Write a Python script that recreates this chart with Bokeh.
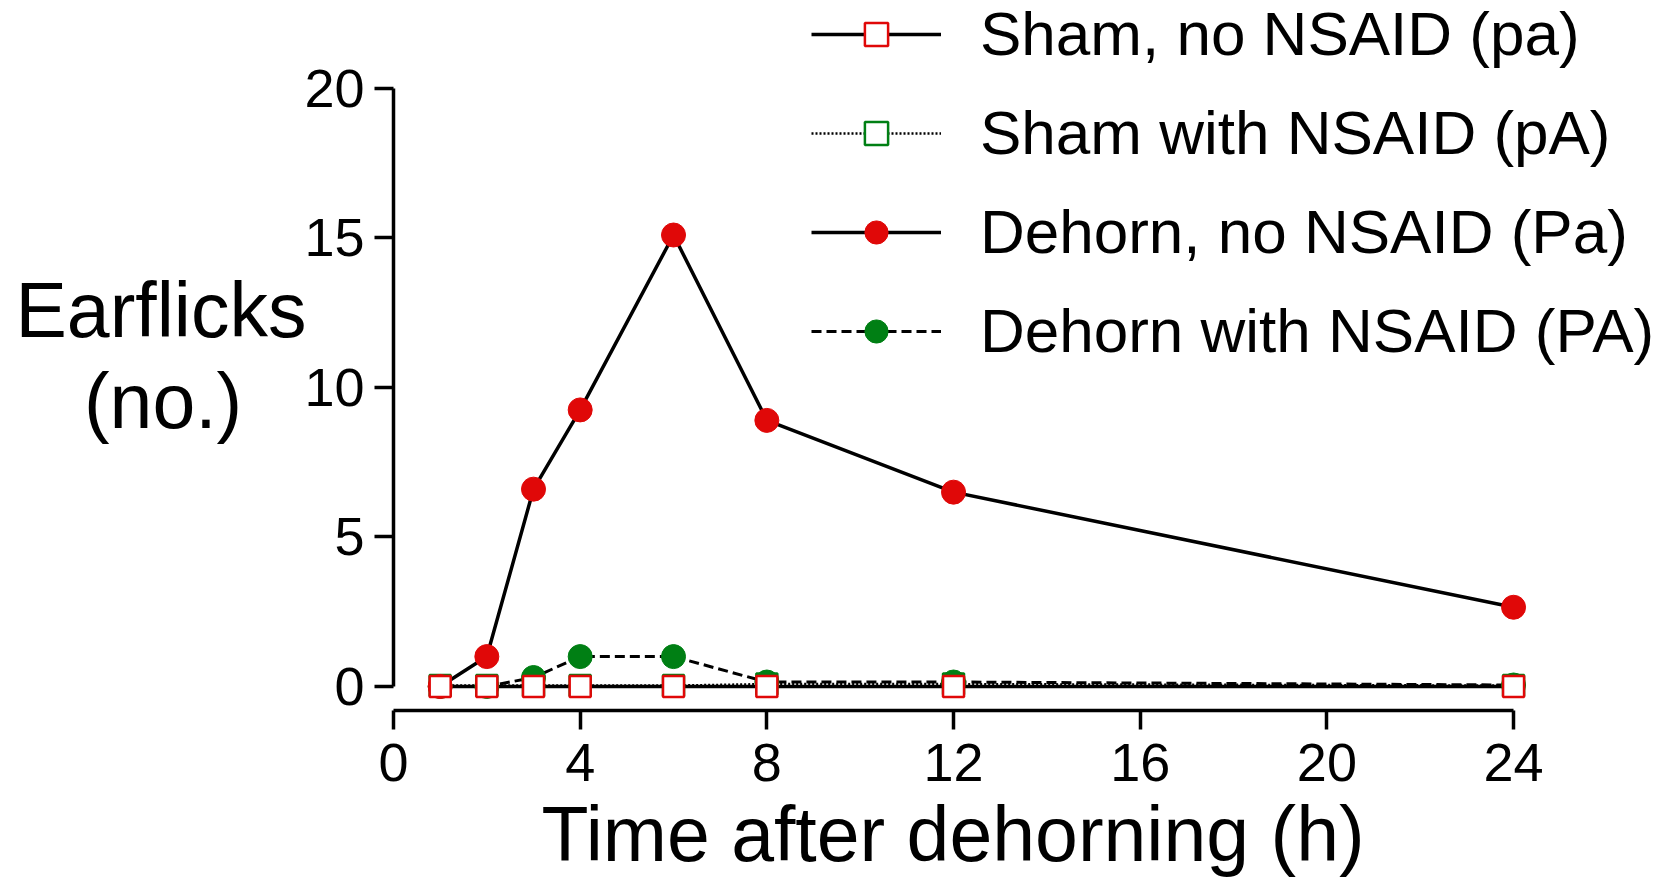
from bokeh.plotting import figure
from bokeh.models import Range1d, FixedTicker, Legend, LegendItem, ColumnDataSource, Title
from bokeh.embed import file_html
from bokeh.resources import INLINE

# ---- data ----
hours = [1, 2, 3, 4, 6, 8, 12, 24]
sham_no_nsaid = [0, 0, 0, 0, 0, 0, 0, 0]                          # pa
sham_with_nsaid = [0.03, 0.03, 0.03, 0.03, 0.03, 0.08, 0.08, 0.03]  # pA
dehorn_no_nsaid = [0, 1.0, 6.6, 9.25, 15.1, 8.9, 6.5, 2.65]        # Pa
dehorn_with_nsaid = [0, 0, 0.3, 1.0, 1.0, 0.15, 0.15, 0.05]        # PA
x_ticks = [0, 4, 8, 12, 16, 20, 24]
y_ticks = [0, 5, 10, 15, 20]
labels = ["Sham, no NSAID (pa)", "Sham with NSAID (pA)",
          "Dehorn, no NSAID (Pa)", "Dehorn with NSAID (PA)"]
x_title = "Time after dehorning (h)"
y_title_lines = ["Earflicks", "(no.)"]

RED = "#e00808"
GREEN = "#007f14"
FONT = "Liberation Sans"
NBSP = "\u00a0"

src = ColumnDataSource(dict(x=hours, pa=sham_no_nsaid, pA=sham_with_nsaid,
                            Pa=dehorn_no_nsaid, PA=dehorn_with_nsaid))

p = figure(width=1654, height=882, output_backend="svg", toolbar_location=None,
           x_range=Range1d(0, 27.02), y_range=Range1d(-0.803, 22.943),
           min_border_left=393, min_border_right=0, min_border_top=0,
           min_border_bottom=172)
p.outline_line_color = None
p.grid.visible = False
p.background_fill_color = "white"

# lines
l_pa = p.line("x", "pa", source=src, line_color="black", line_width=3.5)
l_Pa = p.line("x", "Pa", source=src, line_color="black", line_width=3.5)
l_PA = p.line("x", "PA", source=src, line_color="black", line_width=3, line_dash="10 5")
l_pA = p.line("x", "pA", source=src, line_color="black", line_width=2.5, line_dash="2 2")

# markers
m_pA = p.scatter("x", "pA", source=src, marker="square", size=21, fill_color="white",
                 line_color=GREEN, line_width=2.5)
m_PA = p.scatter("x", "PA", source=src, marker="circle", size=24, fill_color=GREEN,
                 line_color=GREEN, line_width=1)
m_Pa = p.scatter("x", "Pa", source=src, marker="circle", size=24, fill_color=RED,
                 line_color=RED, line_width=1)
m_pa = p.scatter("x", "pa", source=src, marker="square", size=21, fill_color="white",
                 line_color=RED, line_width=2.5)

# axes
for ax in (p.xaxis[0], p.yaxis[0]):
    ax.axis_line_width = 3.5
    ax.major_tick_line_width = 3.5
    ax.major_tick_in = 0
    ax.major_tick_out = 19
    ax.minor_tick_line_color = None
    ax.major_label_text_font = FONT
    ax.major_label_text_color = "black"
    ax.major_label_text_font_size = "54px"

p.xaxis.bounds = (0, 24)
p.xaxis.ticker = FixedTicker(ticks=x_ticks)
p.xaxis.major_label_standoff = 14

p.yaxis.bounds = (0, 20)
p.yaxis.ticker = FixedTicker(ticks=y_ticks)
p.yaxis.major_label_standoff = 10
p.yaxis.axis_label = y_title_lines[0] + "\n" + y_title_lines[1] + NBSP * 3
p.yaxis.axis_label_orientation = "horizontal"
p.yaxis.axis_label_text_font = FONT
p.yaxis.axis_label_text_font_style = "normal"
p.yaxis.axis_label_text_font_size = "77px"
p.yaxis.axis_label_text_color = "black"
p.yaxis.axis_label_text_line_height = 1.05
p.yaxis.axis_label_standoff = -5

# x-axis title (aligned on the axis bounds, as in the reference)
p.add_layout(Title(text=x_title, align="left", offset=148, standoff=10,
                   text_font=FONT, text_font_size="77px", text_font_style="normal",
                   text_color="black"), "below")

legend = Legend(items=[
    LegendItem(label=labels[0], renderers=[l_pa, m_pa]),
    LegendItem(label=labels[1], renderers=[l_pA, m_pA]),
    LegendItem(label=labels[2], renderers=[l_Pa, m_Pa]),
    LegendItem(label=labels[3], renderers=[l_PA, m_PA]),
], location=(418, 344))
legend.glyph_width = 130
legend.glyph_height = 58
legend.label_height = 58
legend.spacing = 28
legend.padding = 0
legend.margin = 0
legend.label_standoff = 39
legend.border_line_color = None
legend.background_fill_alpha = 0
legend.label_text_font = FONT
legend.label_text_font_size = "62px"
legend.label_text_color = "black"
p.add_layout(legend)

open("out.html", "w").write(file_html(p, INLINE))
